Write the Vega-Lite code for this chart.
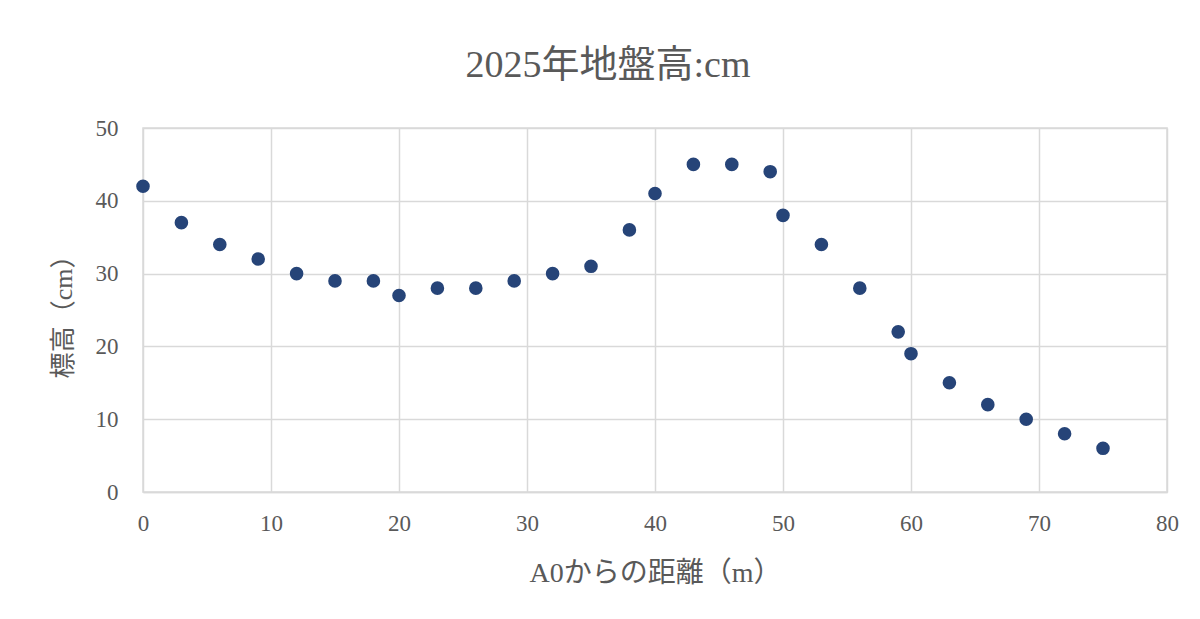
{
  "$schema": "https://vega.github.io/schema/vega-lite/v6.json",
  "autosize": "none",
  "width": 1024,
  "height": 364,
  "padding": {"left": 143, "top": 128, "right": 33, "bottom": 127},
  "background": "white",
  "title": {
    "text": "2025年地盤高:cm",
    "font": "Liberation Serif, Noto Sans CJK JP",
    "fontSize": 38,
    "fontWeight": "normal",
    "color": "#595959",
    "anchor": "middle",
    "dx": -47,
    "offset": 32
  },
  "data": {
    "values": [
      {"distance": 0, "height": 42},
      {"distance": 3, "height": 37},
      {"distance": 6, "height": 34},
      {"distance": 9, "height": 32},
      {"distance": 12, "height": 30},
      {"distance": 15, "height": 29},
      {"distance": 18, "height": 29},
      {"distance": 20, "height": 27},
      {"distance": 23, "height": 28},
      {"distance": 26, "height": 28},
      {"distance": 29, "height": 29},
      {"distance": 32, "height": 30},
      {"distance": 35, "height": 31},
      {"distance": 38, "height": 36},
      {"distance": 40, "height": 41},
      {"distance": 43, "height": 45},
      {"distance": 46, "height": 45},
      {"distance": 49, "height": 44},
      {"distance": 50, "height": 38},
      {"distance": 53, "height": 34},
      {"distance": 56, "height": 28},
      {"distance": 59, "height": 22},
      {"distance": 60, "height": 19},
      {"distance": 63, "height": 15},
      {"distance": 66, "height": 12},
      {"distance": 69, "height": 10},
      {"distance": 72, "height": 8},
      {"distance": 75, "height": 6}
    ]
  },
  "mark": {"type": "circle", "size": 185, "color": "#264478", "opacity": 1},
  "encoding": {
    "x": {
      "field": "distance",
      "type": "quantitative",
      "scale": {"domain": [0, 80], "nice": false, "zero": true},
      "axis": {
        "values": [0, 10, 20, 30, 40, 50, 60, 70, 80],
        "title": "A0からの距離（m）",
        "titleFont": "Liberation Serif, Noto Sans CJK JP",
        "titleFontSize": 28,
        "titleFontWeight": "normal",
        "titleColor": "#595959",
        "titlePadding": 24,
        "labelFont": "Liberation Serif",
        "labelFontSize": 23,
        "labelColor": "#595959",
        "labelPadding": 20,
        "labelFlush": false,
        "labelOverlap": false,
        "ticks": false,
        "domainColor": "#d9d9d9",
        "domainWidth": 1.5,
        "gridColor": "#d9d9d9",
        "gridWidth": 1.5
      }
    },
    "y": {
      "field": "height",
      "type": "quantitative",
      "scale": {"domain": [0, 50], "nice": false},
      "axis": {
        "values": [0, 10, 20, 30, 40, 50],
        "title": "標高（cm）",
        "titleFont": "Liberation Serif, Noto Sans CJK JP",
        "titleFontSize": 26,
        "titleFontWeight": "normal",
        "titleColor": "#595959",
        "titlePadding": 19,
        "labelFont": "Liberation Serif",
        "labelFontSize": 23,
        "labelColor": "#595959",
        "labelPadding": 25,
        "labelFlush": false,
        "labelOverlap": false,
        "ticks": false,
        "domain": false,
        "gridColor": "#d9d9d9",
        "gridWidth": 1.5
      }
    }
  },
  "config": {
    "view": {"stroke": "#d9d9d9", "strokeWidth": 1.5}
  }
}
